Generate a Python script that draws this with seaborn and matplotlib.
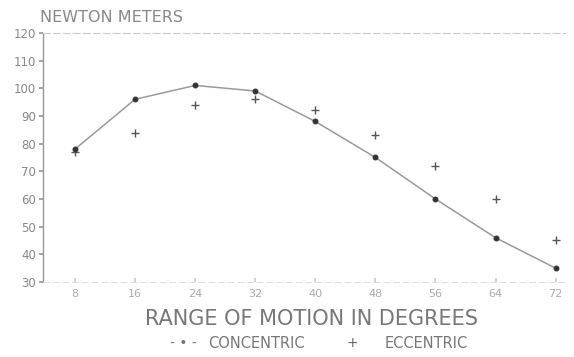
import matplotlib
matplotlib.use("Agg")
import matplotlib.pyplot as plt
import seaborn as sns
import pandas as pd

degrees = [8, 16, 24, 32, 40, 48, 56, 64, 72]
concentric = [78, 96, 101, 99, 88, 75, 60, 46, 35]
eccentric = [77, 84, 94, 96, 92, 83, 72, 60, 45]
y_ticks = [30, 40, 50, 60, 70, 80, 90, 100, 110, 120]

sns.set_theme(style="white")
plt.rcParams['font.family'] = ['DejaVu Sans']

df = pd.DataFrame({"deg": degrees, "con": concentric, "ecc": eccentric})

fig = plt.figure(figsize=(5.74, 3.57), dpi=100)
ax = fig.add_axes([0.075, 0.21, 0.91, 0.698])

sns.lineplot(data=df, x="deg", y="con", ax=ax, color="#9a9a9a", lw=1.1,
             marker="o", markersize=3.5, markerfacecolor="#333333",
             markeredgecolor="#333333")
sns.scatterplot(data=df, x="deg", y="ecc", ax=ax, marker="+", s=30,
                color="#555555", linewidth=1.0)

ax.set_xlim(3.75, 73.3)
ax.set_ylim(30, 120)
ax.set_xticks(degrees)
ax.set_xticklabels([str(d) for d in degrees], color="#aaaaaa", fontsize=8)
ax.set_yticks(y_ticks)
ax.set_yticklabels([str(v) for v in y_ticks], color="#888888", fontsize=8.5)
ax.tick_params(axis="y", length=3, color="#999999", pad=2, left=True)
ax.tick_params(axis="x", length=3, direction="in", color="#cccccc", pad=5, bottom=True)

ax.spines["right"].set_visible(False)
ax.spines["left"].set_color("#999999")
ax.spines["left"].set_linewidth(1.0)
ax.spines["top"].set_color("#cccccc")
ax.spines["top"].set_linestyle((0, (6, 3)))
ax.spines["top"].set_linewidth(0.8)
ax.spines["bottom"].set_color("#dddddd")
ax.spines["bottom"].set_linestyle((0, (6, 4)))
ax.spines["bottom"].set_linewidth(0.7)

ax.set_xlabel("RANGE OF MOTION IN DEGREES", color="#777777", fontsize=15)
ax.xaxis.set_label_coords((311 - 43) / (565 - 43), -0.11)
ax.set_ylabel("")
fig.text(0.07, 0.95, "NEWTON METERS", color="#888888", fontsize=11.5, ha="left", va="center")

ly = 1 - 343 / 357
fig.text(170 / 574, ly, "- \u2022 -", color="#777777", fontsize=10, ha="left", va="center")
fig.text(208 / 574, ly, "CONCENTRIC", color="#777777", fontsize=10.5, ha="left", va="center")
fig.text(352 / 574, ly, "+", color="#666666", fontsize=10, ha="center", va="center")
fig.text(385 / 574, ly, "ECCENTRIC", color="#777777", fontsize=10.5, ha="left", va="center")

fig.savefig("out.png", dpi=100, facecolor="white")
